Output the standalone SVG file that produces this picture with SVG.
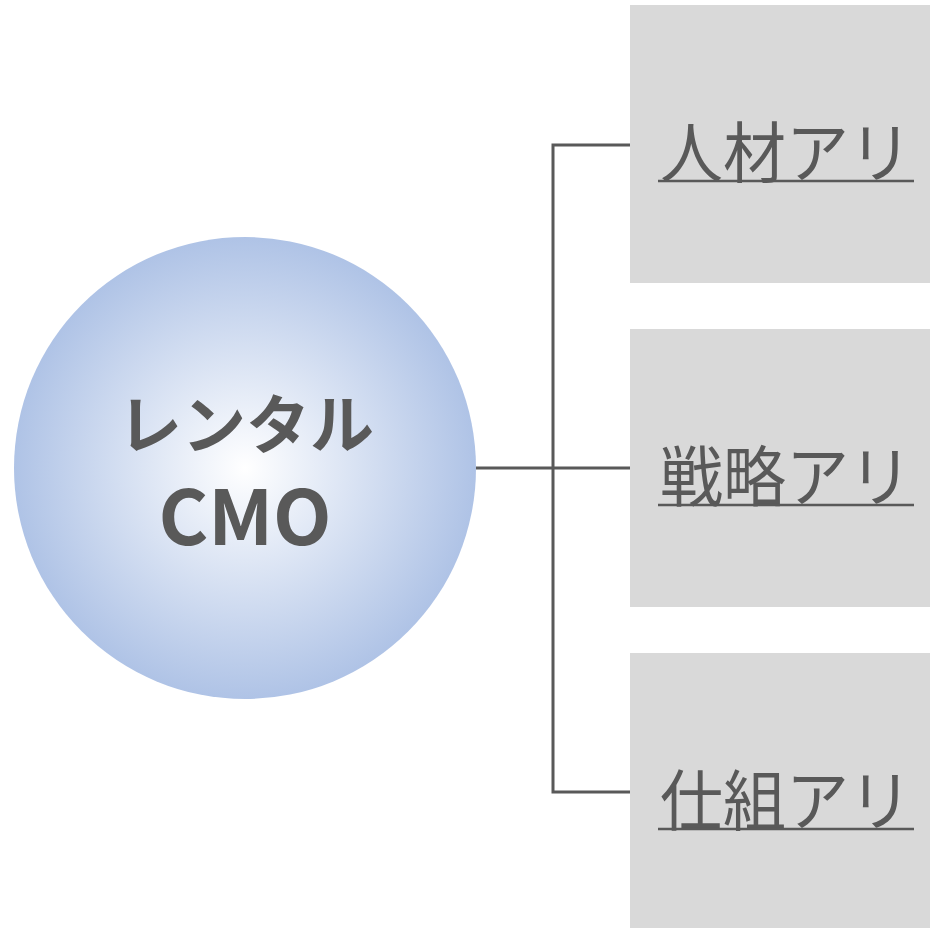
<svg xmlns="http://www.w3.org/2000/svg" width="930" height="928" viewBox="0 0 930 928">
<defs>
<radialGradient id="g" cx="50%" cy="50%" r="50%">
<stop offset="0" stop-color="#ffffff"/>
<stop offset="1" stop-color="#afc3e6"/>
</radialGradient>
<style>
.box{fill:#d9d9d9}
.lbl{font-family:"Noto Sans CJK JP",sans-serif;font-size:66px;fill:#595959}
.ul{stroke:#595959;stroke-width:2.5}
.c{font-family:"Noto Sans CJK JP","Liberation Sans",sans-serif;font-weight:bold;fill:#595959;text-anchor:middle}
.conn{fill:none;stroke:#595959;stroke-width:3}
</style>
</defs>
<rect width="930" height="928" fill="#ffffff"/>
<g id="connectors">
<path class="conn" d="M630 145H553V792H630M476 468H630"/>
</g>
<g id="center">
<circle cx="245" cy="468" r="231" fill="url(#g)"/>
<text class="c" x="246" y="448" font-size="64">レンタル</text>
<text class="c" x="245" y="545" font-size="76" font-family="Liberation Sans">CMO</text>
</g>
<g id="box1">
<rect class="box" x="630" y="5" width="300" height="278"/>
<text class="lbl" x="660" y="177" textLength="252" lengthAdjust="spacingAndGlyphs">人材アリ</text>
<line class="ul" x1="658" y1="181" x2="914" y2="181"/>
</g>
<g id="box2">
<rect class="box" x="630" y="329" width="300" height="278"/>
<text class="lbl" x="660" y="501" textLength="252" lengthAdjust="spacingAndGlyphs">戦略アリ</text>
<line class="ul" x1="658" y1="505" x2="914" y2="505"/>
</g>
<g id="box3">
<rect class="box" x="630" y="653" width="300" height="275"/>
<text class="lbl" x="660" y="825" textLength="252" lengthAdjust="spacingAndGlyphs">仕組アリ</text>
<line class="ul" x1="658" y1="829" x2="914" y2="829"/>
</g>
</svg>
